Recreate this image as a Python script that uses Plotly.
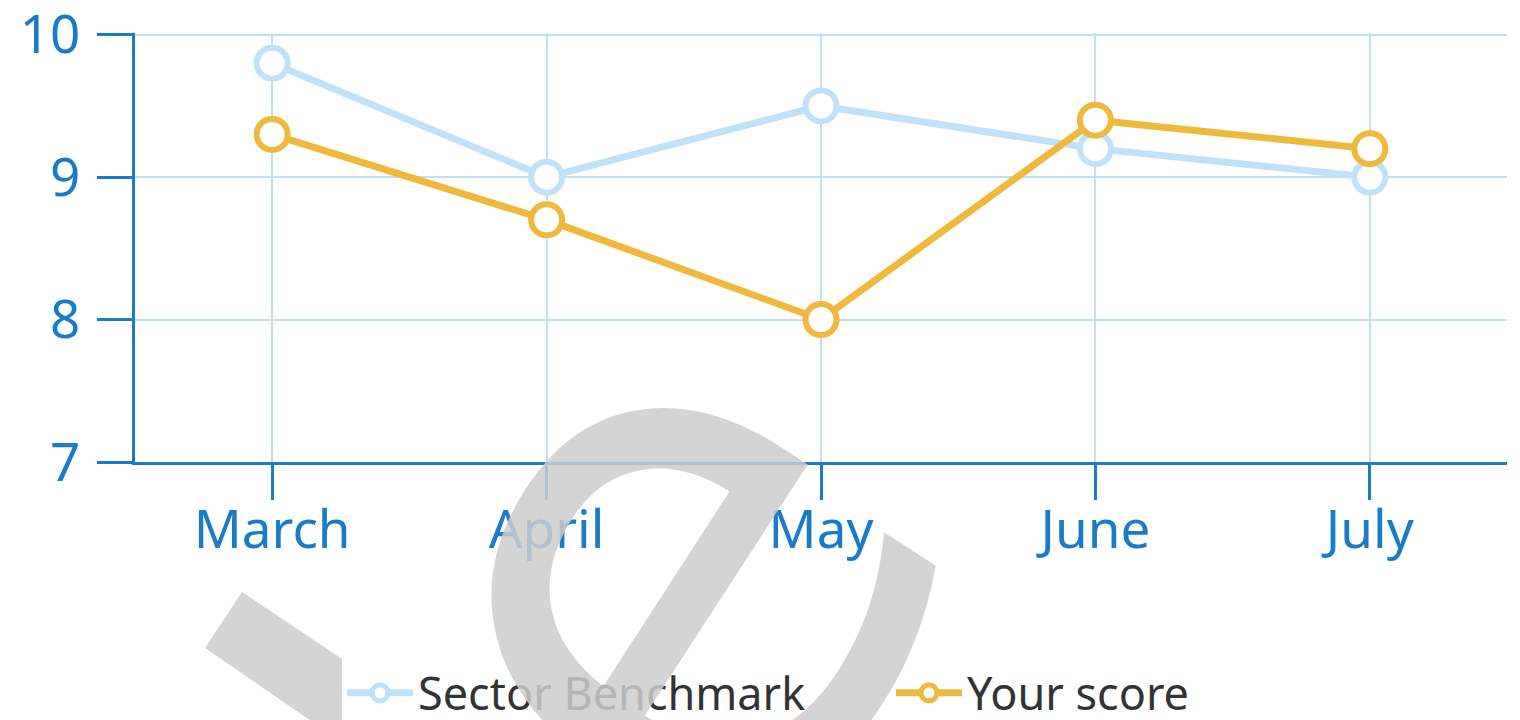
import plotly.graph_objects as go

months = ["March", "April", "May", "June", "July"]
benchmark = [9.8, 9.0, 9.5, 9.2, 9.0]
your_score = [9.3, 8.7, 8.0, 9.4, 9.2]
y_ticks = [7, 8, 9, 10]

BLUE = "#1a7cc6"
LIGHT = "#bfe2fa"
GOLD = "#f0b93b"
GRID = "#bfe0f7"
FONT = "Noto Sans"

# the page body has an 8px margin; compensate so the chart sits where intended
OFF = 8
L, T, R, B = 135, 33, 1507, 462  # plot area in page pixels

fig = go.Figure()
fig.add_trace(go.Scatter(
    x=months, y=benchmark, name="Sector Benchmark", mode="lines+markers",
    line=dict(color=LIGHT, width=7),
    marker=dict(symbol="circle", size=31, color="white", line=dict(color=LIGHT, width=6)),
))
fig.add_trace(go.Scatter(
    x=months, y=your_score, name="Your score", mode="lines+markers",
    line=dict(color=GOLD, width=7),
    marker=dict(symbol="circle", size=31, color="white", line=dict(color=GOLD, width=6)),
))

W, H = 1520 - OFF, 720 - OFF
fig.update_layout(
    width=W, height=H,
    margin=dict(l=L - OFF, r=W + OFF - R, t=T - OFF, b=H + OFF - B, autoexpand=False),
    paper_bgcolor="white", plot_bgcolor="white",
    font=dict(family=FONT, color=BLUE),
    showlegend=True,
    legend=dict(orientation="h", x=(342 - L) / (R - L), xanchor="left",
                y=(B - 693) / (B - T), yanchor="middle",
                font=dict(size=45, color="#333333", family=FONT),
                itemwidth=66, entrywidth=468, itemsizing="trace"),
    xaxis=dict(
        range=[-0.5, 4.5], showgrid=True, gridcolor=GRID, gridwidth=2,
        showline=True, linecolor=BLUE, linewidth=3,
        ticks="outside", ticklen=35, tickwidth=3, tickcolor=BLUE,
        tickfont=dict(size=53, color=BLUE, family=FONT), zeroline=False,
        ticklabelstandoff=-16, automargin=False,
    ),
    yaxis=dict(
        range=[7, 10.012], tickvals=y_ticks, showgrid=True, gridcolor=GRID, gridwidth=2,
        showline=True, linecolor=BLUE, linewidth=3,
        ticks="outside", ticklen=35, tickwidth=3, tickcolor=BLUE,
        tickfont=dict(size=53, color=BLUE, family=FONT), zeroline=False,
        ticklabelstandoff=6, ticklabeloverflow="allow", automargin=False,
    ),
)

# watermark approximation (page pixel coords -> paper coords)
def px(x, y):
    return ((x - L) / (R - L), (B - y) / (B - T))

pts = [px(205, 648), px(242, 592), px(493, 760), px(368, 760)]
path = "M " + " L ".join(f"{a},{b}" for a, b in pts) + " Z"
fig.add_shape(type="path", path=path, xref="paper", yref="paper",
              fillcolor="rgba(205,205,205,0.85)", line=dict(width=0), layer="above")
ex, ey = px(650, 582)
fig.add_annotation(text="e", x=ex, y=ey, xref="paper", yref="paper",
                   xanchor="center", yanchor="middle",
                   showarrow=False, textangle=-57,
                   font=dict(size=725, color="rgba(205,205,205,0.85)", family="DejaVu Sans"))

fig.write_html("out.html")
